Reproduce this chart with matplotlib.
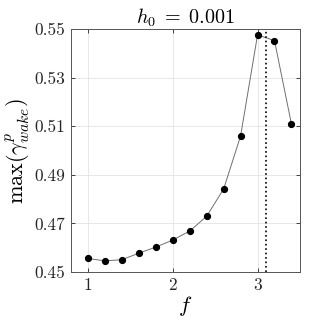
import numpy as np
import matplotlib
matplotlib.use("Agg")
import matplotlib.pyplot as plt

plt.rcParams['mathtext.fontset'] = 'cm'
plt.rcParams['font.family'] = 'serif'
plt.rcParams['font.serif'] = ['cmr10']
plt.rcParams['axes.formatter.use_mathtext'] = True

f = [1.0, 1.2, 1.4, 1.6, 1.8, 2.0, 2.2, 2.4, 2.6, 2.8, 3.0, 3.2, 3.4]
gamma_max = [0.4556, 0.4546, 0.4551, 0.4578, 0.4603, 0.4632, 0.4669, 0.4730,
             0.4842, 0.5060, 0.5476, 0.5453, 0.5110]
f_crit = 3.1
xticks = [1, 2, 3]
yticks = [0.45, 0.47, 0.49, 0.51, 0.53, 0.55]

fig = plt.figure(figsize=(3.31, 3.31), dpi=100)
ax = fig.add_axes([0.215, 0.178, 0.691, 0.734])

ax.plot(f, gamma_max, color='#707070', lw=0.7, zorder=2)
ax.plot(f, gamma_max, 'o', color='black', ms=4.2, zorder=3)
ax.axvline(f_crit, color='black', ls=':', lw=1.2, zorder=2)

ax.set_xlim(0.8, 3.5)
ax.set_ylim(0.45, 0.55)
ax.set_xticks(xticks)
ax.set_yticks(yticks)
ax.set_xticklabels([str(t) for t in xticks])
ax.set_yticklabels([f'{t:.2f}' for t in yticks])
ax.grid(True, color='#e3e3e3', lw=0.6, zorder=0)
ax.tick_params(direction='in', top=True, right=True, length=3, width=0.6,
               labelsize=12.5, colors='#262626', pad=4)
for sp in ax.spines.values():
    sp.set_color('#555555')
    sp.set_linewidth(0.7)

ax.set_title(r'$h_0\;=\;0.001$', fontsize=14.5, pad=4)
ax.set_xlabel(r'$f$', fontsize=16, labelpad=1)
ax.set_ylabel(r'$\max(\gamma^p_{wake})$', fontsize=16, labelpad=2)

fig.savefig('out.png', dpi=100)
